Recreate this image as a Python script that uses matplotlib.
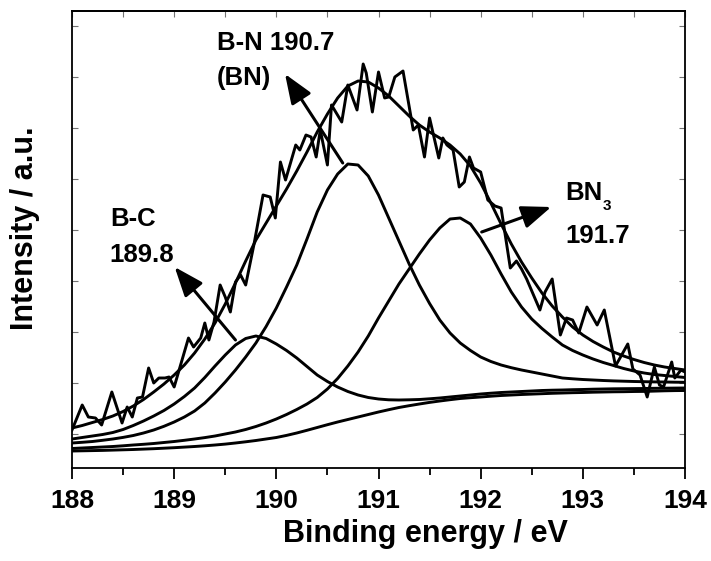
import numpy as np
import matplotlib
matplotlib.use('Agg')
import matplotlib.pyplot as plt
from matplotlib.ticker import MultipleLocator

plt.rcParams['font.family'] = ['Liberation Sans', 'DejaVu Sans']
plt.rcParams['font.weight'] = 'bold'

# raw B 1s spectrum (binding energy / eV, intensity / a.u.)
raw_be = [188.00, 188.10, 188.16, 188.23, 188.29, 188.39, 188.49, 188.54, 188.59, 188.64,
          188.69, 188.75, 188.80, 188.85, 188.91, 188.95, 189.00, 189.14, 189.19, 189.26,
          189.30, 189.34, 189.39, 189.45, 189.50, 189.55, 189.60, 189.65, 189.70, 189.78,
          189.87, 189.94, 189.99, 190.04, 190.09, 190.19, 190.23, 190.29, 190.34, 190.39,
          190.43, 190.50, 190.54, 190.64, 190.70, 190.79, 190.85, 190.88, 190.94, 191.00,
          191.06, 191.10, 191.16, 191.24, 191.34, 191.39, 191.45, 191.50, 191.59, 191.63,
          191.67, 191.73, 191.79, 191.84, 191.89, 191.93, 192.00, 192.07, 192.14, 192.20,
          192.29, 192.35, 192.40, 192.45, 192.58, 192.63, 192.70, 192.78, 192.84, 192.90,
          192.96, 193.04, 193.14, 193.21, 193.32, 193.44, 193.49, 193.56, 193.63, 193.70,
          193.75, 193.79, 193.87, 193.90, 193.96, 194.00]
raw_int = [38, 63, 51, 50, 43, 76, 45, 61, 51, 70,
           71, 100, 85, 90, 90, 91, 81, 130, 121, 130,
           145, 128, 146, 183, 171, 156, 186, 193, 183, 223,
           273, 271, 250, 306, 288, 323, 318, 333, 331, 311,
           338, 303, 363, 346, 383, 358, 404, 395, 356, 396,
           370, 371, 391, 397, 338, 343, 311, 350, 310, 330,
           323, 318, 281, 286, 311, 300, 296, 268, 262, 260,
           200, 207, 199, 189, 158, 176, 189, 133, 150, 148,
           135, 161, 143, 158, 102, 124, 99, 93, 71, 101,
           83, 81, 106, 90, 98, 96]

# fitted curves (components include the Shirley background), every 0.1 eV
fit_be = [188.0, 188.1, 188.2, 188.3, 188.4, 188.5, 188.6, 188.7, 188.8, 188.9,
          189.0, 189.1, 189.2, 189.3, 189.4, 189.5, 189.6, 189.7, 189.8, 189.9,
          190.0, 190.1, 190.2, 190.3, 190.4, 190.5, 190.6, 190.7, 190.8, 190.9,
          191.0, 191.1, 191.2, 191.3, 191.4, 191.5, 191.6, 191.7, 191.8, 191.9,
          192.0, 192.1, 192.2, 192.3, 192.4, 192.5, 192.6, 192.7, 192.8, 192.9,
          193.0, 193.1, 193.2, 193.3, 193.4, 193.5, 193.6, 193.7, 193.8, 193.9, 194.0]
background = [17, 17.2, 17.4, 17.6, 17.9, 18.2, 18.5, 18.9, 19.3, 19.8,
              20.3, 20.9, 21.5, 22.2, 23, 23.9, 25, 26.2, 27.5, 29,
              30.5, 32.6, 35, 37.7, 40.5, 43.3, 46, 48.5, 51, 53.5,
              56, 58.3, 60.5, 62.3, 64, 65.6, 67, 68.3, 69.5, 70.3,
              71, 71.8, 72.5, 73, 73.5, 73.9, 74.3, 74.7, 75, 75.3,
              75.5, 75.8, 76, 76.2, 76.3, 76.5, 76.6, 76.9, 77.2, 77.4, 77.5]
peak_bc = [29, 30.5, 32, 33.5, 35.5, 38.5, 42.5, 47, 52, 57.5,
           64, 71.5, 80, 90.5, 102, 113, 123, 129.5, 132, 129.5,
           124, 117.5, 110, 101.5, 93, 86.5, 81, 76.5, 73, 70.5,
           69, 68.2, 68, 68.2, 68.5, 69.2, 70, 71, 72, 73,
           74, 74.8, 75.5, 76, 76.5, 77, 77.5, 77.8, 78, 78.3,
           78.5, 78.8, 79, 79.2, 79.3, 79.4, 79.5, 79.7, 79.8, 79.9, 80]
peak_bn = [25, 25.7, 26.5, 27.7, 29, 30.6, 32.5, 35, 38, 41.7,
           46, 51, 57, 65, 75, 86, 98, 111, 125, 141.5,
           160, 181, 203, 229, 256, 278, 294, 304, 303, 292,
           273, 250, 227, 204, 183, 164.5, 148, 135, 125, 117.5,
           111, 106.5, 103, 100.3, 98, 96, 94, 92, 90, 89.2,
           88.5, 88, 87.5, 87.1, 86.8, 86.5, 86.3, 86.1, 86, 85.8, 85.7]
peak_bn3 = [19.5, 20, 20.5, 21, 21.5, 22.2, 23, 23.7, 24.5, 25.5,
            26.5, 27.7, 29, 30.4, 32, 34, 36, 38.5, 41.5, 45,
            49, 53.5, 58.5, 64, 70.5, 79, 89.5, 102, 116, 132,
            150, 167, 184, 199, 214, 228, 240, 249, 250, 244,
            230, 213, 194, 176, 161, 149, 139.5, 131, 123, 117.5,
            113, 109, 105.5, 102.5, 99.5, 97, 95, 93.5, 92.5, 91.5, 90.5]
envelope = [40, 42.5, 45.5, 48.5, 52, 56.5, 62, 68.5, 76, 84,
            93, 103, 115, 129, 145, 164, 185, 207, 228, 245,
            262, 279, 297, 316, 336, 354, 370, 382, 387, 386,
            380, 372, 362, 352, 343, 336, 330, 323, 314, 302,
            285, 265, 244, 224, 206, 190, 175, 162, 151, 141,
            133, 126.5, 121, 116, 112, 108.5, 105.5, 103, 101, 99.5, 98]

fig = plt.figure(figsize=(7.11, 5.61), dpi=100)
ax = fig.add_axes([72 / 711, 93 / 561, 613 / 711, 457 / 561])

lw = 2.1
ax.plot(raw_be, raw_int, color='k', lw=lw)
for curve in (envelope, peak_bc, peak_bn, peak_bn3, background):
    ax.plot(fit_be, curve, color='k', lw=lw)

ax.set_xlim(188, 194)
ax.set_ylim(0, 457)

# labels and arrows
arrow = dict(arrowstyle='-|>,head_length=0.9,head_width=0.35', color='k', lw=2.2,
             mutation_scale=20, shrinkA=0, shrinkB=0)
ax.annotate('', xy=(190.085, 394), xytext=(190.65, 305), arrowprops=arrow)
ax.annotate('', xy=(189.005, 201), xytext=(189.60, 128), arrowprops=arrow)
ax.annotate('', xy=(192.69, 261), xytext=(192.01, 236), arrowprops=arrow)

fs = 18.5
ax.text(189.42, 418, 'B-N 190.7', fontsize=fs, fontweight='bold')
ax.text(189.42, 383, '(BN)', fontsize=fs, fontweight='bold')
ax.text(188.37, 242, 'B-C', fontsize=fs, fontweight='bold')
ax.text(188.37, 206, '189.8', fontsize=fs, fontweight='bold')
ax.text(192.83, 268, 'BN', fontsize=fs, fontweight='bold')
ax.text(193.19, 258, '3', fontsize=11, fontweight='bold')
ax.text(192.83, 225, '191.7', fontsize=fs, fontweight='bold')

ax.set_xlabel('Binding energy / eV', fontsize=22, fontweight='bold')
ax.set_ylabel('Intensity / a.u.', fontsize=22, fontweight='bold')
ax.xaxis.set_label_coords(0.576, -0.112)
ax.yaxis.set_label_coords(-0.053, 0.524)

for s in ax.spines.values():
    s.set_linewidth(1.3)

ax.xaxis.set_major_locator(MultipleLocator(1))
ax.xaxis.set_minor_locator(MultipleLocator(0.5))
ax.tick_params(axis='x', which='major', direction='out', length=8, width=1.3,
               labelsize=19, pad=7, top=False)
ax.tick_params(axis='x', which='minor', direction='out', length=5, width=1.3, top=False)

ax.set_yticks(np.arange(34.4, 457, 51))
ax.tick_params(axis='y', direction='in', length=4, width=0.8, color='0.45',
               left=True, right=True, labelleft=False)

top = ax.secondary_xaxis('top')
top.set_xticks(np.arange(188, 194.01, 0.5))
top.tick_params(direction='in', length=4, width=0.8, color='0.45', labeltop=False)
top.spines['top'].set_linewidth(1.3)

fig.savefig('out.png', dpi=100)
